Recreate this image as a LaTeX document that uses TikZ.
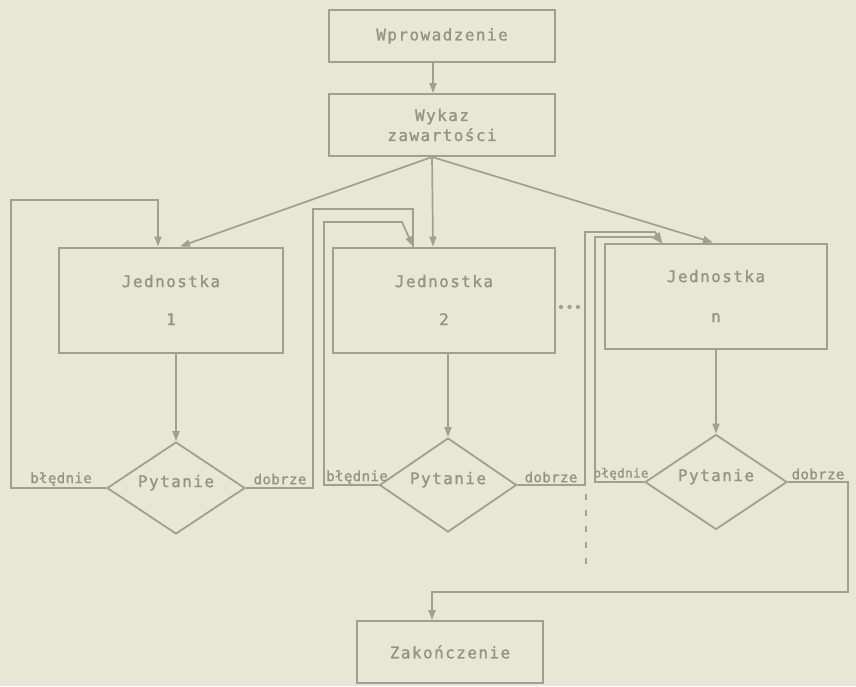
\documentclass[tikz,border=0pt]{standalone}
\usepackage{fontspec}
\newfontfamily\plotfont[LetterSpace=9,FakeBold=1.2]{DejaVu Sans Mono}
\newfontfamily\labfont[LetterSpace=3,FakeBold=1.2]{DejaVu Sans Mono}
\usetikzlibrary{shapes.geometric,arrows.meta}
\definecolor{paper}{RGB}{232,230,213}
\definecolor{ink}{RGB}{160,160,144}
\definecolor{txt}{RGB}{148,148,132}
\begin{document}
\begin{tikzpicture}[x=1pt,y=-1pt,
  every node/.style={font=\plotfont\fontsize{16}{18}\selectfont, text=txt},
  box/.style={draw=ink, line width=2pt, inner sep=0pt, align=center},
  dia/.style={draw=ink, line width=1.8pt, diamond, inner sep=0pt, aspect=1.5, text depth=14pt},
  lab/.style={font=\labfont\fontsize{14}{16}\selectfont, inner sep=0pt},
  smalllab/.style={font=\labfont\fontsize{12.5}{14}\selectfont, inner sep=0pt},
  conn/.style={draw=ink, line width=1.7pt},
  arr/.style={conn, -{Triangle[length=10pt,width=7pt]}},
]
\fill[paper] (0,0) rectangle (856,686);
\useasboundingbox (0,0) rectangle (856,686);

% boxes
\node[box, minimum width=226pt, minimum height=52pt] (wpr) at (442,36) {Wprowadzenie};
\node[box, minimum width=226pt, minimum height=62pt] (wyk) at (442,125) {Wykaz\\[2pt]zawartości};
\node[box, minimum width=224pt, minimum height=105pt] (j1) at (171,300) {Jednostka\\[20pt]1};
\node[box, minimum width=222pt, minimum height=105pt] (j2) at (444,300) {Jednostka\\[20pt]2};
\node[box, minimum width=222pt, minimum height=105pt] (jn) at (716,296) {Jednostka\\[22pt]n};
\node[box, minimum width=186pt, minimum height=62pt] (zak) at (450,652) {Zakończenie};

% decisions
\node[dia, minimum width=138pt, minimum height=92pt] (d1) at (176,488) {Pytanie};
\node[dia, minimum width=137pt, minimum height=94pt] (d2) at (448,485) {Pytanie};
\node[dia, minimum width=142pt, minimum height=95pt] (d3) at (716,482) {Pytanie};

% labels
\node[lab] (b1) at (61,479) {błędnie};
\node[lab] (g1) at (280,479) {dobrze};
\node[lab] (b2) at (357,477) {błędnie};
\node[lab] (g2) at (551,477) {dobrze};
\node[smalllab] (b3) at (621,474) {błędnie};
\node[lab] (g3) at (818,474) {dobrze};

% main flow
\coordinate (wb) at ([xshift=-10pt]wyk.south);
\draw[arr] ([xshift=-9pt]wpr.south) -- ([xshift=-9pt]wyk.north);
\draw[arr] (wb) -- ([xshift=9pt]j1.north);
\draw[arr] (wb) -- ([xshift=-11pt]j2.north);
\draw[arr] (wb) -- ([xshift=-3pt]jn.north);
\draw[arr] (d1.north |- j1.south) -- (d1.north);
\draw[arr] (d2.north |- j2.south) -- (d2.north);
\draw[arr] (d3.north |- jn.south) -- (d3.north);

% loops
\draw[arr] (d1.west) -- (11,488) |- (158,200) -- (j1.north -| 158,0);
\draw[conn] (d1.east) -- (313,488) |- (413,209) -- (j2.north -| 413,0);
\draw[arr] (d2.west) -- (324,485) |- (402,222) -- (j2.north -| 413,0);
\draw[arr] (d2.east) -- (585,485) |- (655,232) -- (jn.north -| 662,0);
\draw[conn] (d3.west) -- (595,482) |- (652,237) -- (jn.north -| 662,0);
\draw[arr] (d3.east) -- (848,482) |- (432,592) -- (zak.north -| 432,0);

% continuation marks
\coordinate (da) at (586,494);
\coordinate (db) at (586,570);
\draw[conn, dash pattern=on 6pt off 10pt] (da) -- (db);
\coordinate (dotend) at (584,307);
\draw[draw=ink, line width=4.2pt, line cap=round, dash pattern=on 0pt off 8.5pt] ([yshift=-7pt,xshift=5pt]j2.east) -- (dotend);
\end{tikzpicture}
\end{document}
